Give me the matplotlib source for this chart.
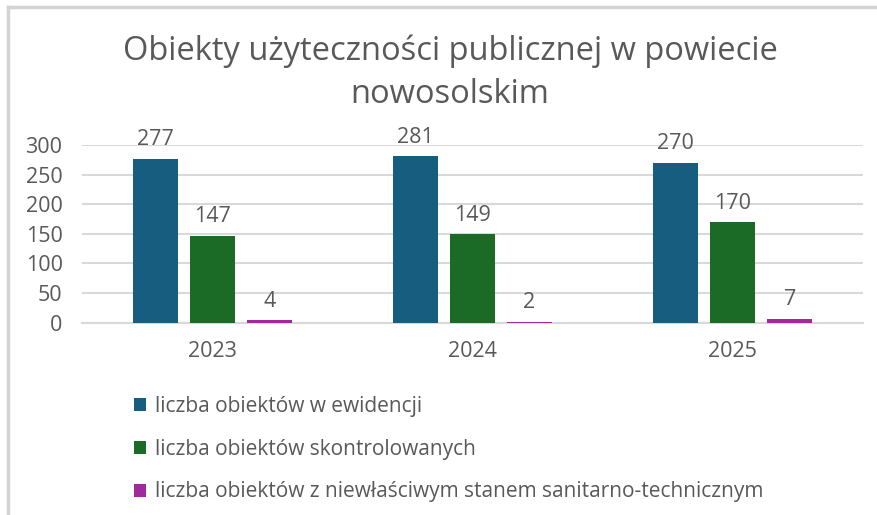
import matplotlib
matplotlib.use("Agg")
import numpy as np
import matplotlib.pyplot as plt
from matplotlib.lines import Line2D

years = ["2023", "2024", "2025"]
series_names = [
    "liczba obiektów w ewidencji",
    "liczba obiektów skontrolowanych",
    "liczba obiektów z niewłaściwym stanem sanitarno-technicznym",
]
w_ewidencji = [277, 281, 270]
skontrolowane = [147, 149, 170]
niewlasciwe = [4, 2, 7]
yticks = [0, 50, 100, 150, 200, 250, 300]

colors = ["#175d7f", "#1b6a25", "#a02a9b"]
text_color = "#595959"
grid_color = "#d9d9d9"

plt.rcParams["font.family"] = ["Open Sans", "DejaVu Sans"]

W, H = 878, 515
fig = plt.figure(figsize=(W / 100, H / 100), dpi=100)
fig.patch.set_facecolor("white")

# outer chart border (top and left only visible)
fig.add_artist(Line2D([8 / W, 1], [1 - 7 / H, 1 - 7 / H], color="#d4d4d4", lw=2.5))
fig.add_artist(Line2D([8 / W, 8 / W], [0, 1 - 7 / H], color="#d4d4d4", lw=2.5))

ax = fig.add_axes([82 / W, 1 - 322.7 / H, (863 - 82) / W, (322.7 - 145) / H])

x = np.arange(len(years))
width = 0.173
step = 0.219
all_series = [w_ewidencji, skontrolowane, niewlasciwe]
handles = []
for i, (vals, name) in enumerate(zip(all_series, series_names)):
    bars = ax.bar(x + (i - 1) * step, vals, width, color=colors[i], label=name,
                  zorder=3)
    handles.append(bars)
    for b, v in zip(bars, vals):
        ax.annotate(str(v), (b.get_x() + b.get_width() / 2, v),
                    xytext=(0, 6), textcoords="offset points",
                    ha="center", va="bottom", fontsize=15.5, color=text_color,
                    annotation_clip=False)

ax.set_xlim(-0.5, 2.5)
ax.set_ylim(0, 300)
ax.set_yticks(yticks)
ax.set_xticks(x)
ax.set_xticklabels(years)
ax.yaxis.grid(True, color=grid_color, lw=1.5, zorder=0)
ax.tick_params(axis="both", length=0, labelsize=15.5, colors=text_color)
ax.tick_params(axis="x", pad=13)
ax.tick_params(axis="y", pad=14)
for s in ["top", "right", "left"]:
    ax.spines[s].set_visible(False)
ax.spines["bottom"].set_color(grid_color)
ax.spines["bottom"].set_linewidth(1.5)

fig.text(450 / W, 1 - 73 / H, "Obiekty użyteczności publicznej w powiecie\nnowosolskim",
         ha="center", va="center", fontsize=23.5, color=text_color, linespacing=1.4)

fig.legend(handles=handles, loc="upper left", bbox_to_anchor=(115 / W, 1 - 377 / H),
           frameon=False, fontsize=15, labelcolor=text_color, ncol=1,
           handlelength=0.6, handleheight=0.6, handletextpad=0.4, labelspacing=1.05)

fig.savefig("out.png", dpi=100)
